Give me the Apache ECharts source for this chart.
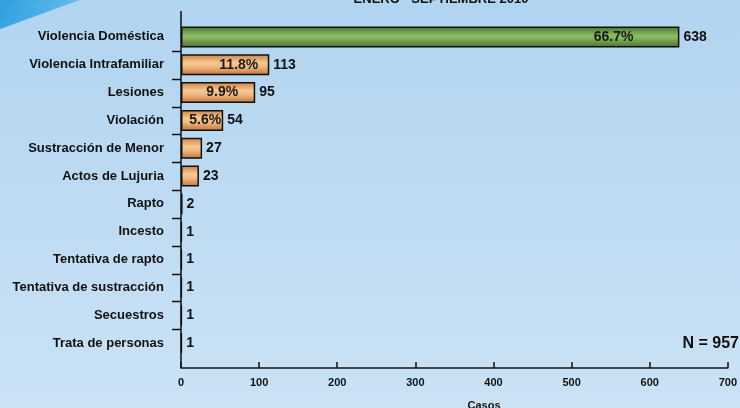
<!DOCTYPE html>
<html><head><meta charset="utf-8">
<script src="https://cdn.jsdelivr.net/npm/echarts@6/dist/echarts.min.js"></script>
<style>html,body{margin:0;padding:0;}#c{width:740px;height:408px;}</style>
</head><body><div id="c"></div>
<script>
var categories = ["Violencia Doméstica","Violencia Intrafamiliar","Lesiones","Violación","Sustracción de Menor","Actos de Lujuria","Rapto","Incesto","Tentativa de rapto","Tentativa de sustracción","Secuestros","Trata de personas"];
var casos = [638,113,95,54,27,23,2,1,1,1,1,1];
var porcentajes = ["66.7%","11.8%","9.9%","5.6%","","","","","","","",""];
var xTicks = [0,100,200,300,400,500,600,700];
var titulo = "ENERO - SEPTIEMBRE 2010";
var total = "N = 957";
var ejeX = "Casos";

var pctDist = [46,11,17,2];
var green = new echarts.graphic.LinearGradient(0,0,0,1,[{offset:0,color:'#4a722c'},{offset:0.45,color:'#8dbd66'},{offset:0.55,color:'#86b55e'},{offset:1,color:'#4a7030'}]);
var orange = new echarts.graphic.LinearGradient(0,0,0,1,[{offset:0,color:'#c9803f'},{offset:0.4,color:'#f7c892'},{offset:0.6,color:'#f0b980'},{offset:1,color:'#c07338'}]);

var chart = echarts.init(document.getElementById('c'));
var font = 'Liberation Sans, Arial, sans-serif';
var baseGraphic = [
    {type:'polygon',shape:{points:[[0,0],[80,0],[0,29]]},style:{fill:new echarts.graphic.LinearGradient(0,0,1,1,[{offset:0,color:'#2f9fde'},{offset:1,color:'#6cc0ec'}])},z:-1},
    {type:'line',shape:{x1:181,y1:11,x2:181,y2:368},style:{stroke:'#111',lineWidth:1.5},z:10},
    {type:'text',style:{text:titulo,x:441,y:6,textAlign:'center',textVerticalAlign:'bottom',fill:'#111',font:'bold 13px '+font}},
    {type:'text',style:{text:total,x:739,y:344,textAlign:'right',textVerticalAlign:'middle',fill:'#111',font:'bold 16px '+font}},
    {type:'text',style:{text:ejeX,x:484,y:400,textAlign:'center',textVerticalAlign:'top',fill:'#111',font:'bold 11px '+font}}
];
chart.setOption({
  animation:false,
  backgroundColor: new echarts.graphic.LinearGradient(0,0,0,1,[{offset:0,color:'#b1d4f0'},{offset:1,color:'#cbe2f5'}]),
  grid:{left:181,right:12,top:23,bottom:51},
  xAxis:{type:'value',min:xTicks[0],max:xTicks[xTicks.length-1],interval:100,offset:11,
    axisLine:{show:true,lineStyle:{color:'#111',width:1.5}},
    axisTick:{show:true,inside:true,length:6,lineStyle:{color:'#111',width:1.5}},
    axisLabel:{color:'#111',fontWeight:'bold',fontSize:11,fontFamily:font,margin:9},
    splitLine:{show:false}},
  yAxis:{type:'category',data:categories,inverse:true,
    axisLine:{show:false},
    axisTick:{show:false},
    axisLabel:{color:'#111',fontWeight:'bold',fontSize:13,fontFamily:font,margin:17}},
  graphic:baseGraphic,
  series:[
    {type:'bar',barWidth:21,
     data:casos.map(function(v,i){return {value:v,itemStyle:{color:i===0?green:orange}};}),
     itemStyle:{borderColor:'#111',borderWidth:1.5},
     label:{show:true,position:'right',distance:4,color:'#111',fontWeight:'bold',fontSize:14,fontFamily:font}},
    {type:'bar',barWidth:21,barGap:'-100%',silent:true,
     data:casos.map(function(v,i){return {value:v,label:{show:!!porcentajes[i],distance:pctDist[i]||5}};}),
     itemStyle:{color:'rgba(0,0,0,0)'},
     label:{show:true,position:'insideRight',color:'#1a1a1a',fontWeight:'bold',fontSize:14,fontFamily:font,
       formatter:function(p){return porcentajes[p.dataIndex];}}}
  ]
});
// category boundary ticks (interior only)
var ticks = [];
for (var i = 1; i < categories.length; i++) {
  var a = chart.convertToPixel({yAxisIndex:0}, categories[i-1]);
  var b = chart.convertToPixel({yAxisIndex:0}, categories[i]);
  var y = Math.round((a+b)/2)+0.5;
  ticks.push({type:'line',shape:{x1:172,y1:y,x2:181,y2:y},style:{stroke:'#111',lineWidth:1.5},z:10});
}
chart.setOption({graphic:baseGraphic.concat(ticks)});
</script></body></html>
